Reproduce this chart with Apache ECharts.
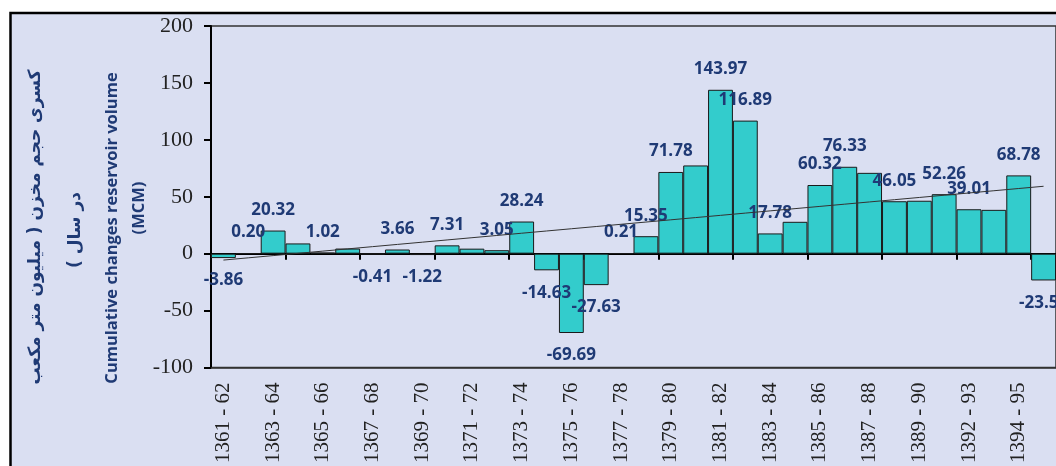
<!DOCTYPE html>
<html>
<head>
<meta charset="utf-8">
<script src="https://cdn.jsdelivr.net/npm/echarts@6/dist/echarts.min.js"></script>
<style>
  html, body { margin: 0; padding: 0; background: #ffffff; }
  #chart { width: 1056px; height: 466px; }
</style>
</head>
<body>
<div id="chart"></div>
<script>
// Water years (Persian calendar)
const categories = [
  "1361 - 62", "1362 - 63", "1363 - 64", "1364 - 65", "1365 - 66", "1366 - 67",
  "1367 - 68", "1368 - 69", "1369 - 70", "1370 - 71", "1371 - 72", "1372 - 73",
  "1373 - 74", "1374 - 75", "1375 - 76", "1376 - 77", "1377 - 78", "1378 - 79",
  "1379 - 80", "1380 - 81", "1381 - 82", "1382 - 83", "1383 - 84", "1384 - 85",
  "1385 - 86", "1386 - 87", "1387 - 88", "1388 - 89", "1389 - 90", "1390 - 91",
  "1392 - 93", "1393 - 94", "1394 - 95", "1395 - 96"
];

// Yearly change of reservoir storage (MCM)
const volumeChange = [
  -3.86, 0.20, 20.32, 9.0, 1.02, 4.5,
  -0.41, 3.66, -1.22, 7.31, 4.4, 3.05,
  28.24, -14.63, -69.69, -27.63, 0.21, 15.35,
  71.78, 77.5, 143.97, 116.89, 17.78, 28.0,
  60.32, 76.33, 71.0, 46.05, 46.5, 52.26,
  39.01, 38.5, 68.78, -23.53
];

// Bars drawn without a value label
const unlabeled = [3, 5, 10, 19, 23, 26, 28, 31];

// Value axis ticks
const yTicks = { min: -100, max: 200, step: 50 };

// Least-squares linear trend over the bar values
function linearTrend(values) {
  const n = values.length;
  let sx = 0, sy = 0, sxx = 0, sxy = 0;
  values.forEach((y, x) => { sx += x; sy += y; sxx += x * x; sxy += x * y; });
  const slope = (n * sxy - sx * sy) / (n * sxx - sx * sx);
  const icpt = (sy - slope * sx) / n;
  return values.map((_, x) => +(icpt + slope * x).toFixed(3));
}
const trend = linearTrend(volumeChange);

const labelColor = '#1f3a75';
const RLM = '\u200F';   // keeps the Persian lines in right-to-left order
const barData = volumeChange.map((v, i) => ({
  value: v,
  label: {
    show: unlabeled.indexOf(i) < 0,
    position: v < 0 ? 'bottom' : 'top',
    distance: v < 0 ? 14 : 12
  }
}));

const chart = echarts.init(document.getElementById('chart'), null, { renderer: 'canvas' });

chart.setOption({
  backgroundColor: '#ffffff',
  animation: false,
  graphic: [
    {
      type: 'rect', z: -10, silent: true,
      shape: { x: 10.5, y: 13, width: 1200, height: 600 },
      style: { fill: '#dadff2', stroke: '#000000', lineWidth: 2.5 }
    },
    {
      type: 'text', x: 36, y: 227, rotation: Math.PI / 2,
      style: {
        text: RLM + 'کسری حجم مخزن ( میلیون متر مکعب' + RLM,
        font: 'bold 17px "DejaVu Sans"', fill: labelColor,
        align: 'center', verticalAlign: 'middle'
      }
    },
    {
      type: 'text', x: 76, y: 230, rotation: Math.PI / 2,
      style: {
        text: RLM + 'در سال )' + RLM,
        font: 'bold 17px "DejaVu Sans"', fill: labelColor,
        align: 'center', verticalAlign: 'middle'
      }
    },
    {
      type: 'text', x: 112, y: 228, rotation: Math.PI / 2,
      style: {
        text: 'Cumulative changes reservoir volume',
        font: 'bold 16.5px "Open Sans"', fill: labelColor,
        align: 'center', verticalAlign: 'middle'
      }
    },
    {
      type: 'text', x: 139, y: 208, rotation: Math.PI / 2,
      style: {
        text: '(MCM)',
        font: 'bold 16.5px "Open Sans"', fill: labelColor,
        align: 'center', verticalAlign: 'middle'
      }
    }
  ],
  grid: {
    left: 211, top: 26, right: -5, bottom: 98,
    show: true, backgroundColor: 'transparent',
    borderColor: '#333333', borderWidth: 1.5
  },
  xAxis: [
    {
      type: 'category',
      data: categories,
      position: 'bottom',
      axisLine: { onZero: false, lineStyle: { color: '#333333', width: 1.5 } },
      axisTick: { show: false },
      axisLabel: {
        interval: 1, rotate: 90, margin: 15,
        fontFamily: '"Liberation Serif", serif', fontSize: 21, color: '#222222'
      },
      splitLine: { show: false }
    },
    {
      type: 'category',
      data: categories,
      position: 'top',
      axisLine: { onZero: true, lineStyle: { color: '#000000', width: 2 } },
      axisTick: { show: true, inside: true, length: 6, lineStyle: { color: '#000000', width: 2 } },
      axisLabel: { show: false },
      splitLine: { show: false }
    }
  ],
  yAxis: {
    type: 'value',
    min: yTicks.min, max: yTicks.max, interval: yTicks.step,
    axisLine: { show: true, lineStyle: { color: '#000000', width: 2 } },
    axisTick: { show: true, length: 7, lineStyle: { color: '#000000', width: 2 } },
    axisLabel: {
      margin: 18, fontFamily: '"Liberation Serif", serif', fontSize: 22, color: '#222222'
    },
    splitLine: { show: false }
  },
  series: [
    {
      type: 'bar',
      xAxisIndex: 0,
      data: barData,
      barWidth: '100%',
      itemStyle: { color: '#33cccc', borderColor: '#1a1a1a', borderWidth: 1 },
      label: {
        formatter: p => p.value.toFixed(2),
        fontFamily: '"Open Sans", sans-serif', fontWeight: 'bold', fontSize: 17,
        color: labelColor
      },
      z: 2
    },
    {
      type: 'line',
      xAxisIndex: 0,
      data: trend,
      symbol: 'none',
      lineStyle: { color: '#333333', width: 1 },
      z: 4,
      silent: true
    }
  ]
});
</script>
</body>
</html>
